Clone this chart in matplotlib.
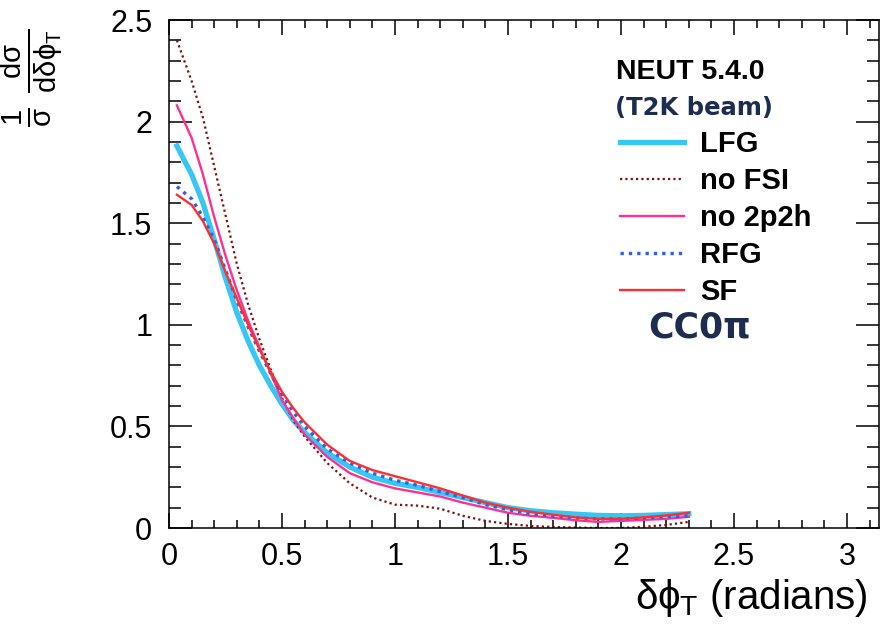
import numpy as np
import matplotlib
matplotlib.use('Agg')
import matplotlib.pyplot as plt
from matplotlib.ticker import MultipleLocator

plt.rcParams['font.family'] = ['Liberation Sans', 'DejaVu Sans']
plt.rcParams['mathtext.fontset'] = 'custom'
plt.rcParams['mathtext.rm'] = 'Liberation Sans'
plt.rcParams['mathtext.it'] = 'Liberation Sans'
plt.rcParams['mathtext.bf'] = 'Liberation Sans:bold'

# bin centres (radians) and normalised shapes
dphi = [0.035, 0.1, 0.15, 0.2, 0.25, 0.3, 0.35, 0.4, 0.45, 0.5, 0.55, 0.6, 0.7, 0.8, 0.9,
        1.0, 1.1, 1.2, 1.3, 1.4, 1.5, 1.6, 1.7, 1.8, 1.9, 2.0, 2.1, 2.2, 2.3]
lfg = [1.88, 1.74, 1.60, 1.42, 1.23, 1.06, 0.92, 0.80, 0.70, 0.61, 0.53, 0.47, 0.37, 0.30, 0.25,
       0.22, 0.20, 0.175, 0.15, 0.125, 0.10, 0.085, 0.075, 0.068, 0.062, 0.06, 0.062, 0.066, 0.07]
no_fsi = [2.40, 2.20, 2.02, 1.78, 1.54, 1.30, 1.10, 0.93, 0.78, 0.64, 0.53, 0.45, 0.32, 0.22, 0.15,
          0.115, 0.11, 0.095, 0.06, 0.035, 0.02, 0.01, 0.005, 0.002, 0.0, 0.0, 0.006, 0.015, 0.03]
no_2p2h = [2.08, 1.92, 1.74, 1.53, 1.34, 1.17, 1.02, 0.89, 0.76, 0.63, 0.54, 0.46, 0.35, 0.27, 0.225,
           0.195, 0.175, 0.155, 0.125, 0.10, 0.075, 0.06, 0.05, 0.038, 0.03, 0.035, 0.04, 0.045, 0.055]
rfg = [1.68, 1.62, 1.53, 1.42, 1.27, 1.12, 0.99, 0.87, 0.76, 0.66, 0.57, 0.50, 0.39, 0.32, 0.27,
       0.235, 0.21, 0.18, 0.15, 0.115, 0.09, 0.07, 0.058, 0.05, 0.045, 0.045, 0.048, 0.055, 0.06]
sf = [1.64, 1.59, 1.51, 1.40, 1.26, 1.13, 1.00, 0.88, 0.77, 0.67, 0.59, 0.52, 0.41, 0.33, 0.285,
      0.255, 0.225, 0.195, 0.16, 0.125, 0.10, 0.08, 0.065, 0.052, 0.045, 0.045, 0.052, 0.062, 0.075]

fig = plt.figure(figsize=(8.8, 6.28), dpi=100)
ax = fig.add_axes([169 / 880, 100 / 628, 710 / 880, 508 / 628])

ax.plot(dphi, lfg, color='#38c6f2', lw=3.8, label='LFG')
ax.plot(dphi, no_fsi, color='#7b1212', lw=1.6, ls=(0, (1, 1.4)), label='no FSI')
ax.plot(dphi, no_2p2h, color='#ff3092', lw=1.7, label='no 2p2h')
ax.plot(dphi, rfg, color='#2f5ff0', lw=2.4, ls=(0, (1, 1.5)), label='RFG')
ax.plot(dphi, sf, color='#ff2f2f', lw=1.7, label='SF')

ax.set_xlim(0, np.pi)
ax.set_ylim(0, 2.5)
ax.xaxis.set_major_locator(MultipleLocator(0.5))
ax.xaxis.set_minor_locator(MultipleLocator(0.1))
ax.yaxis.set_major_locator(MultipleLocator(0.5))
ax.yaxis.set_minor_locator(MultipleLocator(0.1))
ax.xaxis.set_major_formatter(lambda v, p: f'{v:g}')
ax.yaxis.set_major_formatter(lambda v, p: f'{v:g}')

ax.tick_params(axis='both', which='both', direction='in', top=True, right=True, width=1.1, colors='black')
ax.tick_params(axis='y', which='major', length=16.5, pad=12, labelsize=22)
ax.tick_params(axis='y', which='minor', length=8.5)
ax.tick_params(axis='x', which='major', length=10.8, pad=10, labelsize=22)
ax.tick_params(axis='x', which='minor', length=5.8)
for s in ax.spines.values():
    s.set_linewidth(1.1)

fig.text(868 / 880, 1 - 598 / 628, r'$\delta\phi_{T}$ (radians)', ha='right', va='center', fontsize=29)
fig.text(32 / 880, 1 - 78 / 628, r'$\frac{1}{\sigma}\ \frac{d\sigma}{d\delta\phi_{T}}$',
         rotation=90, ha='center', va='center', fontsize=30)

fig.text(616 / 880, 1 - 79 / 628, 'NEUT 5.4.0', fontsize=20.5, fontweight='bold', color='black')
fig.text(615 / 880, 1 - 115 / 628, '(T2K beam)', fontsize=17.5, fontweight='bold', color='#1e2d4f',
         family='DejaVu Sans')
fig.text(648 / 880, 1 - 338 / 628, 'CC0π', fontsize=25, fontweight='bold', color='#1e2d4f',
         family='DejaVu Sans')

leg = ax.legend(loc='upper left', bbox_to_anchor=(620 / 880, 1 - 130 / 628), bbox_transform=fig.transFigure,
                frameon=False, borderpad=0, borderaxespad=0, handlelength=2.2, handletextpad=0.55,
                labelspacing=0.31, prop={'size': 21, 'weight': 'bold'})

fig.savefig('out.png', dpi=100)
